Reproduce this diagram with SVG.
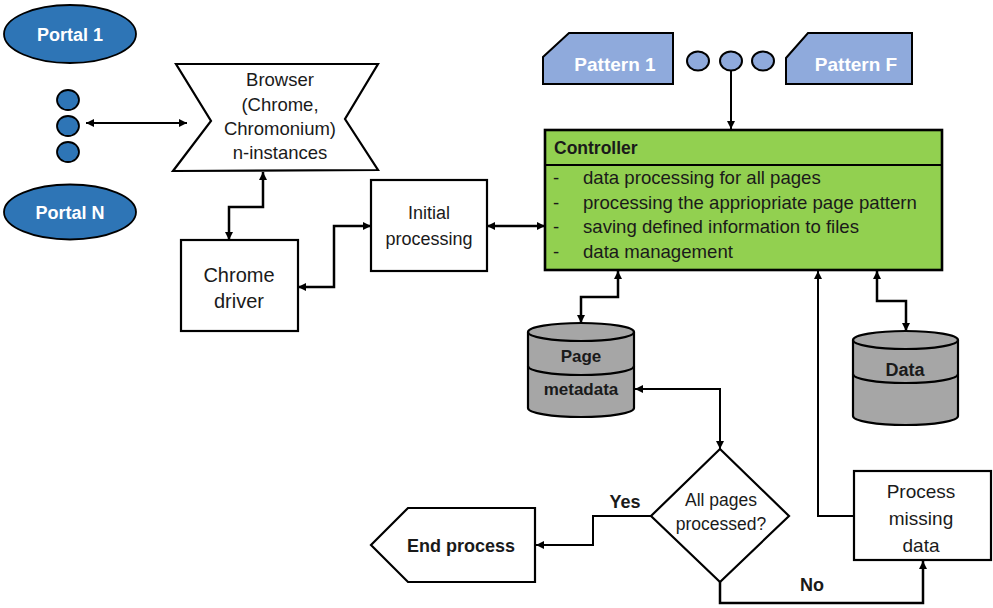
<svg xmlns="http://www.w3.org/2000/svg" width="993" height="608" viewBox="0 0 993 608">
  <defs>
    <style>
      text { font-family: "Liberation Sans", Arial, sans-serif; fill: #1a1a1a; }
      .b { font-weight: bold; }
      .w { fill: #ffffff; font-weight: bold; }
      .c { text-anchor: middle; }
      .box { fill: #ffffff; stroke: #000000; stroke-width: 2.2; }
      .portal { fill: #2E75B6; stroke: #000000; stroke-width: 1.8; }
      .pat { fill: #8FAADC; stroke: #000000; stroke-width: 2; }
      .db { fill: #A6A6A6; stroke: #000000; stroke-width: 2.2; }
      .wire { fill: none; stroke: #000000; stroke-width: 2.5; }
      .thin { fill: none; stroke: #000000; stroke-width: 2; }
    </style>
    <marker id="ah" viewBox="0 0 8 8" refX="8" refY="4" markerWidth="8" markerHeight="8" markerUnits="userSpaceOnUse" orient="auto-start-reverse">
      <path d="M0,0 L8,4 L0,8 z" fill="#000000"/>
    </marker>
  </defs>

  <rect x="0" y="0" width="993" height="608" fill="#ffffff"/>

  <!-- portals -->
  <g id="portal1">
    <ellipse class="portal" cx="70" cy="34" rx="66" ry="29"/>
    <text class="w c" x="70" y="41" font-size="18">Portal 1</text>
  </g>
  <g id="portal-dots">
    <ellipse class="portal" cx="68" cy="100" rx="11" ry="10"/>
    <ellipse class="portal" cx="68" cy="126" rx="11" ry="10"/>
    <ellipse class="portal" cx="68" cy="152" rx="11" ry="10"/>
  </g>
  <g id="portalN">
    <ellipse class="portal" cx="70" cy="212" rx="66" ry="27.5"/>
    <text class="w c" x="70" y="219" font-size="18">Portal N</text>
  </g>

  <!-- browser -->
  <g id="browser">
    <polygon class="box" points="176,64 378,64 345,119 378,170 173,171 211,121"/>
    <text class="c" x="280" y="86" font-size="18.5">Browser</text>
    <text class="c" x="280" y="111" font-size="18.5">(Chrome,</text>
    <text class="c" x="280" y="135" font-size="18.5">Chromonium)</text>
    <text class="c" x="280" y="159" font-size="18.5">n-instances</text>
  </g>

  <g id="chrome-driver">
    <rect class="box" x="181" y="240" width="117" height="91"/>
    <text class="c" x="239" y="282" font-size="20">Chrome</text>
    <text class="c" x="239" y="308" font-size="20">driver</text>
  </g>

  <g id="initial-processing">
    <rect class="box" x="371" y="180" width="116" height="91"/>
    <text class="c" x="429" y="219" font-size="18">Initial</text>
    <text class="c" x="429" y="245" font-size="18">processing</text>
  </g>

  <!-- page patterns -->
  <g id="pattern1">
    <polygon class="pat" points="569,33 673,33 673,84 543,84 543,57"/>
    <text class="w c" x="615" y="71" font-size="19">Pattern 1</text>
  </g>
  <g id="pattern-dots">
    <ellipse class="pat" cx="698" cy="61" rx="11" ry="9.5"/>
    <ellipse class="pat" cx="731" cy="61" rx="11" ry="9.5"/>
    <ellipse class="pat" cx="763" cy="61" rx="11" ry="9.5"/>
  </g>
  <g id="patternF">
    <polygon class="pat" points="808,33 912,33 912,84 786,84 786,58"/>
    <text class="w c" x="856" y="71" font-size="19">Pattern F</text>
  </g>

  <!-- controller -->
  <g id="controller">
    <rect x="545" y="130" width="397" height="140" fill="#92D050" stroke="#000000" stroke-width="2.6"/>
    <line x1="545" y1="165" x2="942" y2="165" stroke="#000000" stroke-width="2"/>
    <text class="b" x="554" y="154" font-size="17.5">Controller</text>
    <g font-size="18.6">
      <text x="553" y="184">-</text><text x="583" y="184">data processing for all pages</text>
      <text x="553" y="209">-</text><text x="583" y="209">processing the appriopriate page pattern</text>
      <text x="553" y="233">-</text><text x="583" y="233">saving defined information to files</text>
      <text x="553" y="258">-</text><text x="583" y="258">data management</text>
    </g>
  </g>

  <!-- storage -->
  <g id="page-metadata">
    <path class="db" d="M528,332 A53,9 0 0 1 634,332 V408 A53,9 0 0 1 528,408 Z"/>
    <path class="db" d="M528,332 A53,9 0 0 0 634,332" fill="none"/>
    <path d="M528,366 A53,9 0 0 0 634,366" fill="none" stroke="#000000" stroke-width="2.2"/>
    <text class="b c" x="581" y="362" font-size="17">Page</text>
    <text class="b c" x="581" y="395" font-size="17">metadata</text>
  </g>
  <g id="data">
    <path class="db" d="M853,340 A52.5,9 0 0 1 958,340 V416 A52.5,9 0 0 1 853,416 Z"/>
    <path class="db" d="M853,340 A52.5,9 0 0 0 958,340" fill="none"/>
    <path d="M853,374 A52.5,9 0 0 0 958,374" fill="none" stroke="#000000" stroke-width="2.2"/>
    <text class="b c" x="905" y="376" font-size="18">Data</text>
  </g>

  <!-- decision and endings -->
  <g id="all-pages">
    <polygon class="box" points="720,449 789,516 720,582 651,516"/>
    <text class="c" x="721" y="506" font-size="17.5">All pages</text>
    <text class="c" x="721" y="530" font-size="17.5">processed?</text>
  </g>
  <g id="end-process">
    <polygon class="box" points="408,508 535,508 535,582 408,582 371,545"/>
    <text class="b c" x="461" y="552" font-size="18">End process</text>
  </g>
  <g id="process-missing">
    <rect class="box" x="854" y="471" width="137" height="89"/>
    <text class="c" x="921" y="498" font-size="19">Process</text>
    <text class="c" x="921" y="525" font-size="19">missing</text>
    <text class="c" x="921" y="552" font-size="19">data</text>
  </g>

  <!-- connectors -->
  <g id="connectors">
    <line class="thin" x1="86" y1="123" x2="187" y2="123" marker-start="url(#ah)" marker-end="url(#ah)"/>
    <path class="wire" d="M263,172 V207 H229 V240" marker-start="url(#ah)" marker-end="url(#ah)"/>
    <path class="wire" d="M298,287 H334 V226 H371" marker-start="url(#ah)" marker-end="url(#ah)"/>
    <line class="wire" x1="487" y1="226" x2="545" y2="226" marker-start="url(#ah)" marker-end="url(#ah)"/>
    <line class="thin" x1="731" y1="71" x2="731" y2="129" marker-end="url(#ah)"/>
    <path class="wire" d="M618,271 V297 H581 V323" marker-start="url(#ah)" marker-end="url(#ah)"/>
    <path class="wire" d="M877,271 V301 H906 V331" marker-start="url(#ah)" marker-end="url(#ah)"/>
    <path class="thin" d="M635,389 H720 V449" marker-start="url(#ah)" marker-end="url(#ah)"/>
    <path class="thin" d="M854,516 H818 V271" marker-end="url(#ah)"/>
    <path class="thin" d="M651,516 H593 V545 H536" marker-end="url(#ah)"/>
    <path class="wire" d="M720,582 V603 H923 V561" marker-end="url(#ah)"/>
    <text class="b c" x="625" y="508" font-size="18">Yes</text>
    <text class="b c" x="812" y="591" font-size="18">No</text>
  </g>
</svg>
